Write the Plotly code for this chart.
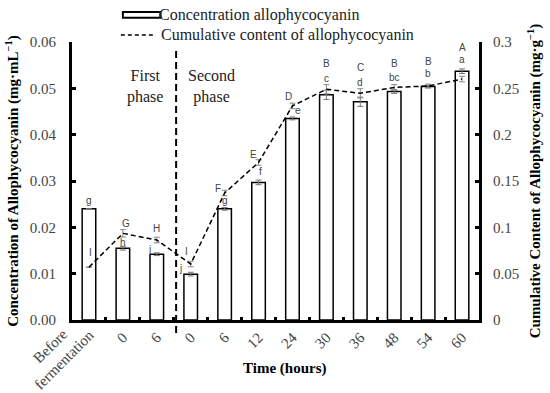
import plotly.graph_objects as go

categories = ["Before fermentation", "0 (I)", "6 (I)", "0 (II)", "6 (II)", "12", "24", "30", "36", "48", "54", "60"]
tick_labels = ["Before<br>fermentation", "0", "6", "0", "6", "12", "24", "30", "36", "48", "54", "60"]

concentration = [0.0240, 0.0155, 0.0142, 0.0099, 0.0240, 0.0297, 0.0435, 0.0486, 0.0471, 0.0493, 0.0504, 0.0537]
concentration_err = [0.0, 0.0004, 0.0003, 0.0004, 0.0003, 0.0005, 0.0003, 0.0010, 0.0010, 0.0004, 0.0003, 0.0005]
cumulative = [0.057, 0.0935, 0.0863, 0.0604, 0.137, 0.170, 0.231, 0.249, 0.2446, 0.251, 0.2525, 0.260]
cumulative_err = [0.0, 0.004, 0.003, 0.003, 0.003, 0.003, 0.003, 0.005, 0.005, 0.003, 0.002, 0.003]

lower_letters = ["g", "h", "i", "j", "g", "f", "e", "c", "d", "bc", "b", "a"]
upper_letters = ["I", "G", "H", "I", "F", "E", "D", "B", "C", "B", "B", "A"]
legend_labels = ["Concentration allophycocyanin", "Cumulative content of allophycocyanin"]

# label placement offsets (pixels)
lower_dx = [0, 0, -7, -10, 0, 2, 6, 0, 0, 0, 0, 0]
lower_dy = [8, 4, 3, 4, 7, 9, 7, 12, 15, 12, 12, 9]
upper_dx = [2, 3, 0, -4, -7, -5, -4, 0, 0, 0, 0, 0]
upper_dy = [15, 10, 12, 13, 5, 8, 9, 26, 26, 24, 25, 32]

SERIF = "Liberation Serif"
SANS = "Liberation Sans"
idx = list(range(len(categories)))

fig = go.Figure()
fig.add_trace(go.Bar(
    x=idx, y=concentration, name=legend_labels[0], showlegend=False,
    marker=dict(color="white", line=dict(color="black", width=1.5)),
    width=0.4,
    error_y=dict(type="data", array=concentration_err, color="#777", thickness=1, width=3),
    yaxis="y",
))
fig.add_trace(go.Scatter(
    x=idx, y=cumulative, name=legend_labels[1], showlegend=False,
    mode="lines", line=dict(color="black", width=1.5, dash="5px,3px"),
    error_y=dict(type="data", array=cumulative_err, color="#888", thickness=1, width=3),
    yaxis="y2",
))

anns = []
for i in idx:
    anns.append(dict(x=i, y=concentration[i] + concentration_err[i], xref="x", yref="y",
                     text=lower_letters[i], showarrow=False, xshift=lower_dx[i], yshift=lower_dy[i],
                     font=dict(family=SANS, size=10, color="#444")))
    anns.append(dict(x=i, y=cumulative[i], xref="x", yref="y2",
                     text=upper_letters[i], showarrow=False, xshift=upper_dx[i], yshift=upper_dy[i],
                     font=dict(family=SANS, size=10, color="#444")))

anns.append(dict(x=1.65, y=0.0505, xref="x", yref="y", text="First<br>phase", showarrow=False,
                 font=dict(family=SERIF, size=16, color="#222")))
anns.append(dict(x=3.6, y=0.0505, xref="x", yref="y", text="Second<br>phase", showarrow=False,
                 font=dict(family=SERIF, size=16, color="#222")))
anns.append(dict(x=0.523, y=-0.173, xref="paper", yref="paper", yanchor="middle",
                 text="<b>Time (hours)</b>",
                 showarrow=False, font=dict(family=SERIF, size=15, color="black")))
# first category label: centred two-line rotated text, as in the reference
anns.append(dict(x=-0.0356, y=-0.119, xref="paper", yref="paper", xanchor="center", yanchor="middle",
                 text=tick_labels[0], textangle=-45, align="center", showarrow=False,
                 font=dict(family=SERIF, size=15, color="#444")))

# legend (drawn to match the reference's wide outlined box)
LEG_X0, LEG_X1, LEG_TX = 0.125, 0.217, 0.208
anns.append(dict(x=LEG_TX, y=1.098, xref="paper", yref="paper", text=legend_labels[0],
                 xanchor="left", yanchor="middle", showarrow=False,
                 font=dict(family=SERIF, size=16, color="#222")))
anns.append(dict(x=LEG_TX + 0.005, y=1.025, xref="paper", yref="paper", text=legend_labels[1],
                 xanchor="left", yanchor="middle", showarrow=False,
                 font=dict(family=SERIF, size=16, color="#222")))

fig.update_layout(
    width=550, height=393,
    margin=dict(l=72, r=71, t=42, b=73, autoexpand=False),
    plot_bgcolor="white", paper_bgcolor="white",
    font=dict(family=SERIF, size=15, color="#333"),
    showlegend=False,
    annotations=anns,
    xaxis=dict(
        tickmode="array", tickvals=idx, ticktext=[""] + tick_labels[1:],
        tickangle=-45, range=[-0.5, 11.5],
        showline=True, linecolor="black", linewidth=3,
        ticks="", automargin=False,
        tickfont=dict(family=SERIF, size=15, color="#444"),
        showgrid=False, zeroline=False,
        minor=dict(tickmode="array", tickvals=[i + 0.5 for i in idx[:-1]], ticks="inside",
                   ticklen=3, tickwidth=3, tickcolor="black", showgrid=False),
    ),
    yaxis=dict(
        range=[0, 0.06], dtick=0.01, tickformat=".2f",
        showline=True, linecolor="black", linewidth=3,
        ticks="inside", ticklen=4, tickwidth=3, tickcolor="black",
        ticklabelstandoff=10, automargin=False,
        tickfont=dict(family=SERIF, size=15, color="#444"),
        title=dict(text="<b>Concentration of Allophycocyanin (mg·mL<sup>−1</sup>)</b>",
                   font=dict(family=SERIF, size=15, color="black"), standoff=8),
        showgrid=False, zeroline=False,
    ),
    yaxis2=dict(
        range=[0, 0.3], dtick=0.05, overlaying="y", side="right",
        showline=True, linecolor="black", linewidth=3,
        ticks="inside", ticklen=4, tickwidth=3, tickcolor="black",
        ticklabelstandoff=8, automargin=False,
        tickfont=dict(family=SERIF, size=15, color="#444"),
        title=dict(text="<b>Cumulative Content of Allophycocyanin (mg·g<sup>−1</sup>)</b>",
                   font=dict(family=SERIF, size=15, color="black"), standoff=12),
        showgrid=False, zeroline=False,
    ),
    shapes=[
        dict(type="line", xref="x", yref="paper", x0=2.57, x1=2.57, y0=-0.047, y1=0.971,
             line=dict(color="black", width=2, dash="7px,4px")),
        dict(type="rect", xref="paper", yref="paper", x0=LEG_X0, x1=LEG_X1, y0=1.087, y1=1.108,
             line=dict(color="black", width=2), fillcolor="white"),
        dict(type="line", xref="paper", yref="paper", x0=LEG_X0 - 0.005, x1=LEG_X1 - 0.012,
             y0=1.025, y1=1.025, line=dict(color="black", width=1.5, dash="4px,3px")),
    ],
)

fig.write_html("out.html", config={"displayModeBar": False},
               post_script="document.body.style.margin='0';")
